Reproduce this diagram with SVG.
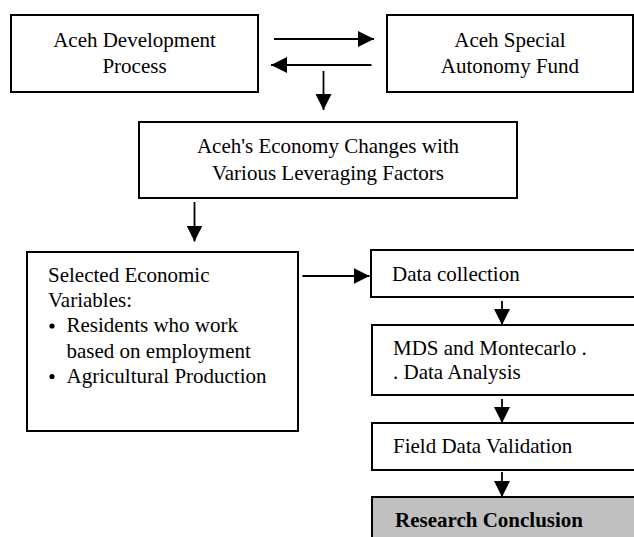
<svg xmlns="http://www.w3.org/2000/svg" width="634" height="537" viewBox="0 0 634 537" font-family="'Liberation Serif', Tinos, 'DejaVu Serif', serif">
<style>
.box{fill:#fff;stroke:#000;stroke-width:2}
.grey{fill:#c0c0c0;stroke:#000;stroke-width:2}
text{font-family:'Liberation Serif', Tinos, 'Times New Roman', 'DejaVu Serif', serif;font-size:21px;fill:#000}
.c{text-anchor:middle}
.b{font-weight:bold}
.con line{stroke:#000;stroke-width:1.8;marker-end:url(#ah)}
</style>
<defs>
<marker id="ah" viewBox="0 0 16 16" refX="16" refY="8" markerWidth="16" markerHeight="16" markerUnits="userSpaceOnUse" orient="auto">
<path d="M0,0 L16,8 L0,16 z" fill="#000"/>
</marker>
</defs>
<rect width="634" height="537" fill="#fff"/>
<g id="n1">
<rect class="box" x="11" y="15" width="247" height="77"/>
<text class="c" x="134.5" y="47">Aceh Development</text>
<text class="c" x="134.5" y="73">Process</text>
</g>
<g id="n2">
<rect class="box" x="387" y="15" width="246" height="77"/>
<text class="c" x="510" y="47">Aceh Special</text>
<text class="c" x="510" y="73">Autonomy Fund</text>
</g>
<g id="n3">
<rect class="box" x="139" y="122" width="378" height="76"/>
<text class="c" x="328" y="153">Aceh's Economy Changes with</text>
<text class="c" x="328" y="180">Various Leveraging Factors</text>
</g>
<g id="n4">
<rect class="box" x="27" y="252" width="271" height="179"/>
<text x="48" y="282">Selected Economic</text>
<text x="48" y="307">Variables:</text>
<circle cx="52" cy="326" r="2.6" fill="#000"/>
<text x="66.5" y="332">Residents who work</text>
<text x="66.5" y="357.5">based on employment</text>
<circle cx="52" cy="376.5" r="2.6" fill="#000"/>
<text x="66.5" y="382.5">Agricultural Production</text>
</g>
<g id="n5">
<rect class="box" x="371" y="250" width="280" height="47"/>
<text x="392" y="280.5">Data collection</text>
</g>
<g id="n6">
<rect class="box" x="372" y="325" width="280" height="70"/>
<text x="393" y="355">MDS and Montecarlo .</text>
<text x="393" y="379">. Data Analysis</text>
</g>
<g id="n7">
<rect class="box" x="372" y="423" width="280" height="47"/>
<text x="393" y="452.5">Field Data Validation</text>
</g>
<g id="n8">
<rect class="grey" x="372" y="497" width="280" height="60"/>
<text class="b" x="395" y="527">Research Conclusion</text>
</g>
<g id="connectors" class="con">
<line x1="274" y1="39" x2="374" y2="39"/>
<line x1="371.5" y1="65" x2="271" y2="65"/>
<line x1="323.5" y1="71" x2="323.5" y2="110"/>
<line x1="194.5" y1="202" x2="194.5" y2="241.5"/>
<line x1="302.5" y1="276" x2="369.5" y2="276"/>
<line x1="502" y1="301" x2="502" y2="325"/>
<line x1="502" y1="399" x2="502" y2="423"/>
<line x1="502" y1="472" x2="502" y2="497"/>
</g>
</svg>
